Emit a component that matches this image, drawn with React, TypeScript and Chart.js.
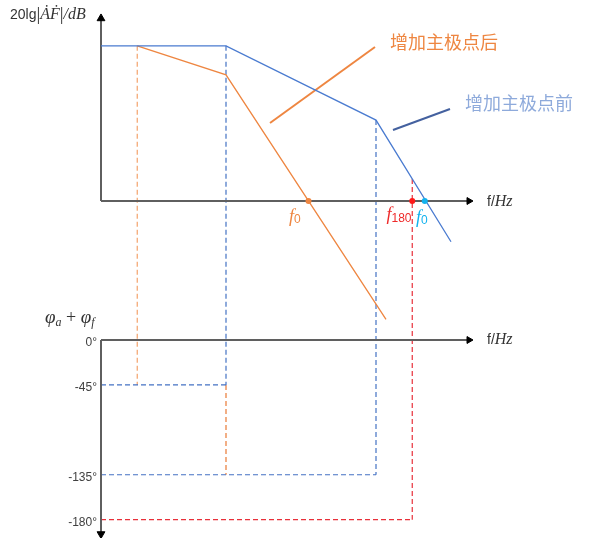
import { useEffect, useRef } from "react";
import { Chart, registerables } from "chart.js";

Chart.register(...registerables);

// log-frequency positions (arbitrary decades, 0 = the y axis)
const POLE_NEW = 1.45;
const POLE_1 = 5.0;
const POLE_2 = 11.0;
const F180 = 12.45;
const F0_AFTER = 8.3;
const F0_BEFORE = 12.95;

// 20lg|AF| in dB, before / after the dominant pole is added
const beforeX = [0, POLE_1, POLE_2, 14.0];
const beforeDb = [80, 80, 41.7, -21];
const afterX = [POLE_NEW, POLE_1, 11.4];
const afterDb = [80, 65, -61];

const dbAtPole2 = 41.7;
const dbAtF180 = 11.4;

// phase axis
const phaseTicks = [0, -45, -135, -180];
const phaseLabels = ["0°", "-45°", "-135°", "-180°"];

// dashed projections, vertical: from the magnitude curve (or a phase level) down to a phase level
const vGuideX = [POLE_NEW, POLE_1, POLE_1, POLE_2, F180];
const vGuideFromDb = [80, 80, null, dbAtPole2, dbAtF180];
const vGuideFromDeg = [null, null, -45, null, null];
const vGuideToDeg = [-45, -45, -135, -135, -180];
// horizontal: from the phase axis to the projected frequency
const hGuideDeg = [-45, -135, -180];
const hGuideToX = [POLE_1, POLE_2, F180];

// pointer lines for the two captions
const afterNoteX = [6.76, 10.96];
const afterNoteDb = [40.2, 79.4];
const beforeNoteX = [11.68, 13.96];
const beforeNoteDb = [36.6, 47.4];

const AXIS_END = 14.72;
const MAG_AXIS_TOP = 94.1;
const PHASE_AXIS_BOTTOM = -194.4;

const BLUE = "#4a7bd0";
const BLUE_DASH = "#4472c4";
const ORANGE = "#ee8641";
const ORANGE_DASH = "#ea7a35";
const LIGHT_ORANGE = "#f4a36c";
const RED = "#e8303a";
const CYAN = "#12b2ee";
const AXIS = "#5f5f5f";
const NOTE_BLUE = "#44619f";
const TEXT_BLUE = "#8eaadb";
const TEXT = "#333333";

const vGuideColors = [LIGHT_ORANGE, BLUE_DASH, ORANGE_DASH, BLUE_DASH, RED];
const hGuideColors = [BLUE_DASH, BLUE_DASH, RED];

const SANS = '"Liberation Sans", Arial, sans-serif';
const SERIF = '"Liberation Serif", "DejaVu Serif", serif';
const CJK = '"Noto Sans CJK SC", sans-serif';

type Run = { t: string; font: string; color?: string; dy?: number };

function drawRuns(ctx: CanvasRenderingContext2D, x: number, y: number, runs: Run[], align = "left") {
  ctx.textBaseline = "middle";
  ctx.textAlign = "left";
  let total = 0;
  for (const r of runs) {
    ctx.font = r.font;
    total += ctx.measureText(r.t).width;
  }
  let cx = align === "right" ? x - total : x;
  for (const r of runs) {
    ctx.font = r.font;
    ctx.fillStyle = r.color || TEXT;
    ctx.fillText(r.t, cx, y + (r.dy || 0));
    cx += ctx.measureText(r.t).width;
  }
}

const diagramPlugin = {
  id: "diagram",
  beforeDatasetsDraw(chart: any) {
    const { ctx } = chart;
    const sx = chart.scales.x;
    const sm = chart.scales.y;
    const sp = chart.scales.yp;
    ctx.save();
    ctx.lineWidth = 1.2;
    ctx.setLineDash([5, 3]);
    vGuideX.forEach((gx, i) => {
      const px = sx.getPixelForValue(gx);
      const top =
        vGuideFromDb[i] !== null
          ? sm.getPixelForValue(vGuideFromDb[i] as number)
          : sp.getPixelForValue(vGuideFromDeg[i] as number);
      const bottom = sp.getPixelForValue(vGuideToDeg[i]);
      ctx.strokeStyle = vGuideColors[i];
      ctx.beginPath();
      ctx.moveTo(px, top);
      ctx.lineTo(px, bottom);
      ctx.stroke();
    });
    hGuideDeg.forEach((deg, i) => {
      const py = sp.getPixelForValue(deg);
      ctx.strokeStyle = hGuideColors[i];
      ctx.beginPath();
      ctx.moveTo(sx.getPixelForValue(0), py);
      ctx.lineTo(sx.getPixelForValue(hGuideToX[i]), py);
      ctx.stroke();
    });
    ctx.restore();
  },
  afterDatasetsDraw(chart: any) {
    const { ctx } = chart;
    const sx = chart.scales.x;
    const sm = chart.scales.y;
    const sp = chart.scales.yp;
    const X = (v: number) => sx.getPixelForValue(v);
    const M = (v: number) => sm.getPixelForValue(v);
    const P = (v: number) => sp.getPixelForValue(v);
    ctx.save();

    drawRuns(ctx, X(-3.64), M(95.9), [
      { t: "20lg", font: `14px ${SANS}` },
      { t: "|", font: `19px ${SERIF}` },
      { t: "ȦḞ", font: `italic 16px ${SERIF}` },
      { t: "|", font: `19px ${SERIF}` },
      { t: "/", font: `italic 16px ${SERIF}` },
      { t: "dB", font: `italic 16px ${SERIF}` },
    ]);

    const fHz: Run[] = [
      { t: "f/", font: `14px ${SANS}` },
      { t: "Hz", font: `italic 16px ${SERIF}` },
    ];
    drawRuns(ctx, X(15.44), M(-0.5), fHz);
    drawRuns(ctx, X(15.44), P(0), fHz);

    drawRuns(ctx, X(-2.24), P(22), [
      { t: "φ", font: `italic 19px ${SERIF}` },
      { t: "a", font: `italic 12px ${SERIF}`, dy: 5 },
      { t: " + ", font: `18px ${SERIF}` },
      { t: "φ", font: `italic 19px ${SERIF}` },
      { t: "f", font: `italic 12px ${SERIF}`, dy: 5 },
    ]);

    phaseTicks.forEach((deg, i) => {
      drawRuns(ctx, X(-0.16), P(deg) + 3, [{ t: phaseLabels[i], font: `12px ${SANS}`, color: "#404040" }], "right");
    });

    drawRuns(ctx, X(11.56), M(82), [{ t: "增加主极点后", font: `18px ${CJK}`, color: ORANGE }]);
    drawRuns(ctx, X(14.56), M(50.5), [{ t: "增加主极点前", font: `18px ${CJK}`, color: TEXT_BLUE }]);

    drawRuns(ctx, X(7.52), M(-8.2), [
      { t: "f", font: `italic 18px ${SERIF}`, color: ORANGE },
      { t: "0", font: `12px ${SANS}`, color: ORANGE, dy: 3 },
    ]);
    drawRuns(ctx, X(11.42), M(-7.2), [
      { t: "f", font: `italic 18px ${SERIF}`, color: "#ee2a2a" },
      { t: "180", font: `12px ${SANS}`, color: "#ee2a2a", dy: 4 },
    ]);
    drawRuns(ctx, X(12.6), M(-8.8), [
      { t: "f", font: `italic 18px ${SERIF}`, color: CYAN },
      { t: "0", font: `12px ${SANS}`, color: CYAN, dy: 3 },
    ]);
    ctx.restore();
  },
};

const line = (xs: number[], ys: number[]) => xs.map((x, i) => ({ x, y: ys[i] }));

export default function App() {
  const canvasRef = useRef<HTMLCanvasElement>(null);

  useEffect(() => {
    document.body.style.margin = "0";
    const canvas = canvasRef.current;
    if (!canvas) return;

    const plain = { pointRadius: 0, tension: 0, fill: false };
    const axis = (rot: number, r: number) => ({
      borderColor: AXIS,
      borderWidth: 2,
      tension: 0,
      pointRadius: [0, r],
      pointStyle: "triangle",
      rotation: [0, rot],
      pointBackgroundColor: "#000",
      pointBorderColor: "#000",
      pointBorderWidth: 1,
    });

    const chart = new Chart(canvas, {
      type: "line",
      data: {
        datasets: [
          {
            data: [
              { x: F0_AFTER, y: 0 },
              { x: F180, y: 0 },
              { x: F0_BEFORE, y: 0 },
            ],
            yAxisID: "y",
            showLine: false,
            pointRadius: 3,
            pointBorderWidth: 0,
            pointBackgroundColor: [ORANGE, "#ff1a1a", CYAN],
          },
          { data: line(beforeX, beforeDb), yAxisID: "y", borderColor: BLUE, borderWidth: 1.3, ...plain },
          { data: line(afterX, afterDb), yAxisID: "y", borderColor: ORANGE, borderWidth: 1.3, ...plain },
          { data: line(afterNoteX, afterNoteDb), yAxisID: "y", borderColor: ORANGE, borderWidth: 2, ...plain },
          { data: line(beforeNoteX, beforeNoteDb), yAxisID: "y", borderColor: NOTE_BLUE, borderWidth: 2, ...plain },
          { data: line([0, AXIS_END], [0, 0]), yAxisID: "y", ...axis(90, 4) },
          { data: line([0, 0], [0, MAG_AXIS_TOP]), yAxisID: "y", ...axis(0, 4.5) },
          { data: line([0, AXIS_END], [0, 0]), yAxisID: "yp", ...axis(90, 4) },
          { data: line([0, 0], [0, PHASE_AXIS_BOTTOM]), yAxisID: "yp", ...axis(180, 4.5) },
        ] as any,
      },
      options: {
        animation: false,
        responsive: false,
        events: [],
        layout: { padding: 0, autoPadding: false },
        plugins: { legend: { display: false }, tooltip: { enabled: false } },
        scales: {
          x: { type: "linear", min: -4.04, max: 20.4, display: false },
          y: { type: "linear", min: -173.71, max: 103.61, display: false },
          yp: { type: "linear", min: -198.4, max: 340.68, display: false },
        },
      },
      plugins: [diagramPlugin],
    });

    return () => chart.destroy();
  }, []);

  return <canvas ref={canvasRef} width={611} height={538} style={{ display: "block" }} />;
}
